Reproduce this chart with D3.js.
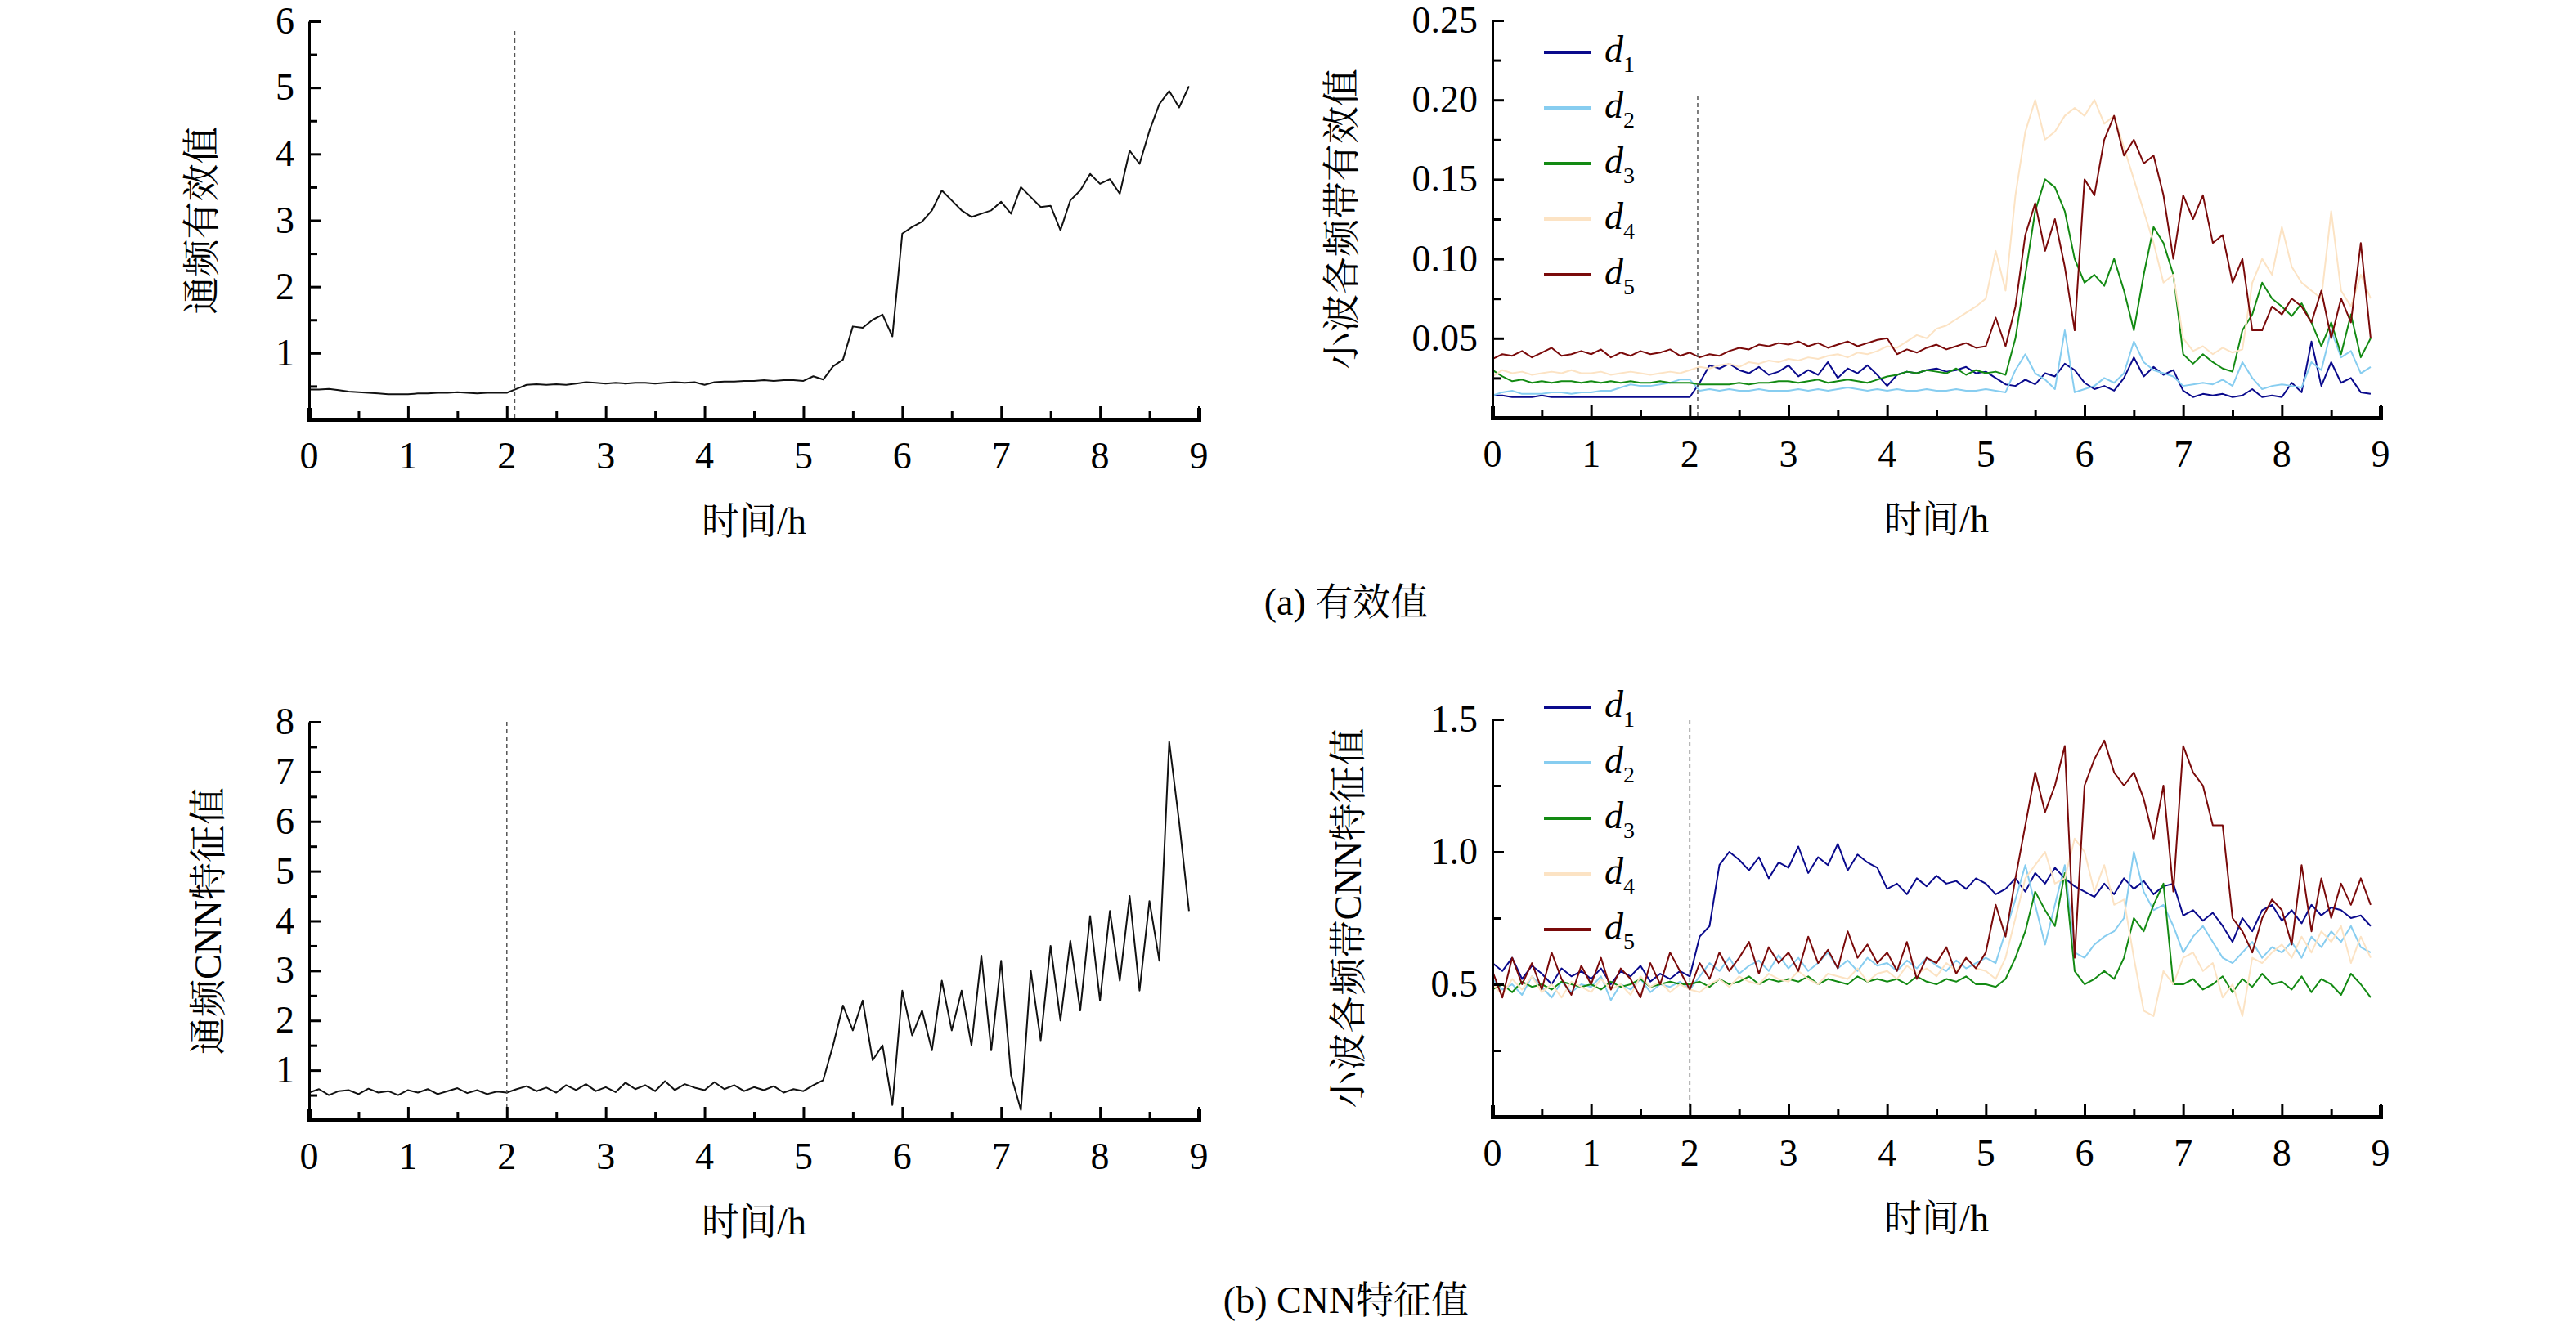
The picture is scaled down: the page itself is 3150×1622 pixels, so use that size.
<!DOCTYPE html>
<html><head><meta charset="utf-8">
<script src="https://cdn.jsdelivr.net/npm/d3@7"></script>
<style>body{margin:0;background:#fff}svg{display:block}</style>
</head><body>
<script>
const time=[0,0.1,0.2,0.3,0.4,0.5,0.6,0.7,0.8,0.9,1,1.1,1.2,1.3,1.4,1.5,1.6,1.7,1.8,1.9,2,2.1,2.2,2.3,2.4,2.5,2.6,2.7,2.8,2.9,3,3.1,3.2,3.3,3.4,3.5,3.6,3.7,3.8,3.9,4,4.1,4.2,4.3,4.4,4.5,4.6,4.7,4.8,4.9,5,5.1,5.2,5.3,5.4,5.5,5.6,5.7,5.8,5.9,6,6.1,6.2,6.3,6.4,6.5,6.6,6.7,6.8,6.9,7,7.1,7.2,7.3,7.4,7.5,7.6,7.7,7.8,7.9,8,8.1,8.2,8.3,8.4,8.5,8.6,8.7,8.8,8.9];
const seriesNames=["d1","d2","d3","d4","d5"];
const rmsA=[.45,.45,.46,.44,.42,.41,.40,.39,.38,.38,.38,.39,.39,.40,.40,.41,.40,.39,.40,.40,.40,.46,.52,.53,.52,.53,.52,.54,.56,.55,.54,.55,.54,.55,.55,.54,.55,.56,.55,.56,.52,.56,.57,.57,.58,.58,.59,.58,.59,.59,.58,.65,.60,.80,.90,1.40,1.38,1.50,1.58,1.25,2.80,2.90,2.98,3.15,3.45,3.30,3.15,3.05,3.10,3.15,3.28,3.10,3.50,3.35,3.20,3.22,2.85,3.30,3.45,3.70,3.55,3.62,3.40,4.05,3.85,4.35,4.75,4.95,4.70,5.02];
const rmsD1=[.014,.014,.013,.013,.013,.014,.013,.013,.013,.013,.013,.013,.013,.013,.013,.013,.013,.013,.013,.013,.013,.022,.033,.031,.034,.030,.028,.032,.027,.029,.033,.026,.030,.027,.035,.025,.031,.028,.033,.027,.020,.027,.029,.028,.030,.031,.029,.030,.032,.028,.029,.025,.021,.020,.024,.021,.028,.026,.034,.030,.022,.018,.020,.017,.025,.038,.026,.032,.027,.030,.017,.013,.015,.014,.015,.013,.014,.018,.013,.014,.013,.022,.016,.048,.020,.035,.022,.025,.016,.015];
const rmsD2=[.014,.016,.017,.015,.015,.015,.016,.016,.015,.016,.016,.017,.017,.019,.021,.020,.020,.021,.022,.024,.024,.017,.018,.017,.018,.017,.017,.018,.017,.017,.017,.018,.017,.018,.017,.018,.019,.018,.017,.018,.017,.018,.017,.017,.018,.017,.017,.018,.017,.017,.018,.017,.016,.030,.040,.028,.024,.018,.055,.016,.018,.020,.025,.022,.028,.048,.035,.030,.028,.026,.020,.021,.022,.021,.024,.020,.035,.025,.018,.020,.021,.020,.019,.035,.030,.055,.038,.042,.028,.032];
const rmsD3=[.030,.026,.023,.024,.022,.023,.022,.023,.023,.022,.023,.022,.023,.022,.023,.022,.022,.023,.022,.022,.022,.021,.021,.021,.021,.022,.021,.022,.022,.023,.023,.022,.023,.024,.022,.023,.024,.023,.022,.024,.026,.027,.029,.028,.030,.029,.028,.031,.027,.030,.028,.029,.027,.050,.090,.130,.150,.145,.130,.100,.085,.090,.083,.100,.080,.055,.090,.120,.110,.090,.040,.034,.040,.035,.031,.029,.055,.065,.085,.075,.070,.064,.072,.060,.045,.060,.040,.065,.038,.050];
const rmsD4=[.026,.030,.028,.029,.027,.028,.029,.028,.030,.028,.028,.029,.027,.028,.029,.028,.027,.028,.029,.028,.030,.032,.031,.033,.034,.032,.035,.034,.036,.035,.037,.036,.038,.037,.039,.040,.038,.041,.040,.042,.045,.044,.048,.052,.050,.056,.058,.062,.066,.070,.075,.105,.080,.140,.180,.200,.175,.180,.190,.195,.190,.200,.185,.190,.170,.150,.130,.110,.085,.090,.050,.042,.045,.040,.044,.041,.043,.085,.100,.090,.120,.095,.085,.080,.075,.130,.080,.070,.090,.075];
const rmsD5=[.037,.040,.039,.042,.038,.041,.044,.039,.040,.042,.040,.043,.038,.041,.039,.042,.040,.041,.043,.039,.041,.038,.040,.039,.042,.044,.043,.046,.045,.047,.046,.048,.045,.047,.044,.046,.048,.045,.047,.049,.050,.040,.043,.041,.044,.046,.043,.045,.047,.044,.045,.063,.045,.070,.115,.135,.105,.125,.095,.055,.150,.140,.175,.190,.165,.175,.160,.165,.140,.100,.140,.125,.140,.110,.115,.085,.100,.055,.055,.070,.065,.075,.070,.060,.080,.050,.075,.060,.110,.050];
const cnnA=[.55,.62,.50,.58,.60,.52,.63,.55,.58,.50,.60,.55,.62,.52,.58,.64,.54,.60,.52,.57,.55,.62,.68,.58,.65,.55,.70,.60,.72,.58,.66,.56,.75,.62,.70,.58,.78,.60,.72,.65,.60,.76,.62,.70,.58,.66,.60,.68,.55,.62,.58,.70,.80,1.5,2.3,1.8,2.4,1.2,1.5,0.3,2.6,1.7,2.2,1.4,2.8,1.8,2.6,1.5,3.3,1.4,3.2,0.9,0.2,3.0,1.6,3.5,2.0,3.6,2.2,4.1,2.4,4.2,2.8,4.5,2.6,4.4,3.2,7.6,6.0,4.2];
const cnnD1=[.58,.55,.60,.52,.57,.54,.50,.56,.53,.55,.52,.56,.50,.55,.53,.57,.51,.54,.52,.55,.53,.68,.72,.95,1.00,.97,.93,.98,.90,.96,.94,1.02,.92,.98,.95,1.03,.93,.99,.96,.94,.86,.88,.84,.90,.87,.91,.88,.89,.86,.90,.88,.84,.86,.90,.85,.92,.88,.94,.90,.87,.85,.83,.88,.84,.90,.86,.89,.84,.87,.88,.76,.78,.74,.77,.72,.66,.75,.70,.78,.80,.74,.78,.73,.80,.76,.79,.78,.75,.76,.72];
const cnnD2=[.52,.48,.50,.46,.53,.49,.45,.51,.47,.50,.49,.53,.44,.50,.48,.52,.47,.50,.49,.51,.48,.53,.58,.55,.60,.54,.57,.59,.55,.61,.56,.60,.55,.58,.62,.56,.59,.55,.60,.57,.58,.55,.59,.56,.60,.57,.55,.59,.56,.58,.60,.58,.70,.82,.95,.80,.65,.80,.95,.62,.60,.65,.68,.70,.75,1.00,.85,.78,.80,.72,.62,.68,.72,.66,.60,.58,.62,.66,.60,.64,.62,.66,.60,.68,.64,.70,.66,.72,.64,.62];
const cnnD3=[.48,.50,.47,.51,.49,.50,.48,.51,.50,.49,.50,.48,.51,.49,.50,.52,.49,.50,.51,.50,.50,.51,.49,.52,.50,.51,.53,.50,.52,.51,.52,.51,.53,.50,.52,.51,.50,.53,.51,.52,.51,.52,.50,.53,.51,.50,.52,.51,.53,.50,.50,.49,.52,.60,.70,.85,.78,.72,.92,.55,.50,.52,.55,.52,.60,.75,.70,.80,.88,.50,.50,.52,.48,.50,.53,.47,.52,.49,.54,.50,.51,.48,.53,.47,.52,.50,.46,.54,.50,.45];
const cnnD4=[.50,.46,.52,.48,.53,.47,.50,.45,.51,.49,.47,.52,.48,.50,.46,.53,.49,.51,.47,.50,.48,.47,.50,.52,.49,.53,.51,.50,.54,.52,.51,.55,.52,.50,.54,.53,.52,.56,.51,.54,.55,.52,.57,.54,.56,.53,.58,.55,.60,.56,.55,.52,.60,.75,.90,.95,1.00,.88,.90,1.05,1.0,.85,.95,.80,.82,.60,.40,.38,.55,.50,.60,.62,.55,.58,.45,.50,.38,.60,.58,.62,.65,.60,.68,.62,.70,.66,.72,.58,.68,.60];
const cnnD5=[.55,.45,.60,.50,.58,.48,.62,.52,.46,.57,.50,.60,.48,.56,.52,.45,.58,.50,.62,.55,.48,.58,.52,.62,.55,.60,.66,.54,.64,.58,.62,.55,.68,.58,.63,.56,.70,.60,.65,.58,.62,.55,.66,.52,.60,.58,.64,.54,.60,.56,.62,.80,.68,.90,1.10,1.30,1.15,1.25,1.40,0.60,1.25,1.35,1.42,1.30,1.25,1.30,1.20,1.05,1.25,0.85,1.40,1.30,1.25,1.10,1.10,0.75,0.70,0.62,0.75,0.82,.78,.65,.95,.70,.90,.75,.88,.80,.90,.80];
const xTicks=[0,1,2,3,4,5,6,7,8,9];
const colors={d1:"#0a0a8c",d2:"#87cdf0",d3:"#138a13",d4:"#fce3c4",d5:"#7a0a0a"};

const W=3150,H=1622;
const svg=d3.select("body").append("svg").attr("width",W).attr("height",H);
const serif='"Liberation Serif","Noto Serif CJK SC","Noto Sans CJK SC",serif';

function panel(o){
  const g=svg.append("g");
  const x=d3.scaleLinear().domain([0,9]).range([o.x0,o.x1]);
  const y=d3.scaleLinear().domain([0,o.ymax]).range([o.y0,o.yT]);
  const line=d3.line().x((d,i)=>x(time[i])).y(d=>y(d));
  o.series.forEach(s=>{
    g.append("path").datum(s.v).attr("d",line).attr("fill","none")
      .attr("stroke",s.c).attr("stroke-width",2).attr("stroke-linejoin","round");
  });
  g.append("line").attr("x1",x(o.dash)).attr("x2",x(o.dash)).attr("y1",o.dashTop).attr("y2",o.y0)
    .attr("stroke","#555").attr("stroke-width",1.5).attr("stroke-dasharray","5,4");
  const xa=g.append("g").attr("transform",`translate(0,${o.y0})`);
  xa.call(d3.axisBottom(x).tickValues(d3.range(0,9.01,0.5)).tickSize(-14).tickFormat(""));
  xa.selectAll(".tick line").attr("y2",d=>Number.isInteger(d)?-16:-10).attr("stroke-width",3);
  xa.select(".domain").attr("stroke-width",5);
  xa.selectAll("text.lab").data(xTicks).enter().append("text").attr("class","lab")
    .attr("x",d=>x(d)).attr("y",60).attr("text-anchor","middle").attr("fill","#000")
    .attr("font-family",serif).attr("font-size",46).text(d=>d);
  const ya=g.append("g").attr("transform",`translate(${o.x0},0)`);
  ya.call(d3.axisLeft(y).tickValues(o.minor).tickSize(0).tickFormat(""));
  ya.select(".domain").attr("stroke-width",3);
  ya.selectAll(".tick line").attr("x2",d=>o.labels.some(l=>Math.abs(l-d)<1e-9)?14:10).attr("stroke-width",3);
  ya.selectAll("text.lab").data(o.labels).enter().append("text").attr("class","lab")
    .attr("x",-18).attr("y",d=>y(d)+15).attr("text-anchor","end").attr("fill","#000")
    .attr("font-family",serif).attr("font-size",46).text(d=>o.fmt(d));
  g.append("text").attr("transform",`translate(${o.ytx},${(o.y0+o.yT)/2}) rotate(-90)`)
    .attr("text-anchor","middle").attr("font-family",serif).attr("font-size",46).text(o.ytitle);
  g.append("text").attr("x",(o.x0+o.x1)/2).attr("y",o.y0+140).attr("text-anchor","middle")
    .attr("font-family",serif).attr("font-size",46).text("时间/h");
  if(o.legend){
    o.series.forEach((s,i)=>{
      const ly=o.legend.y+i*o.legend.dy;
      g.append("line").attr("x1",o.legend.x).attr("x2",o.legend.x+58).attr("y1",ly).attr("y2",ly)
        .attr("stroke",s.c).attr("stroke-width",4);
      const t=g.append("text").attr("x",o.legend.x+74).attr("y",ly+12).attr("font-family",serif).attr("font-size",46);
      t.append("tspan").attr("font-style","italic").text("d");
      t.append("tspan").attr("font-size",28).attr("dy",12).text(String(i+1));
    });
  }
}
const mk=(arrs)=>arrs.map((v,i)=>({v,c:colors[seriesNames[i]]}));

panel({x0:378,x1:1466,y0:513,yT:26,ymax:6,series:[{v:rmsA,c:"#111"}],dash:2.08,dashTop:38,
  minor:d3.range(0.5,6.01,0.5),labels:[1,2,3,4,5,6],fmt:d=>d,ytx:262,ytitle:"通频有效值"});
panel({x0:1825,x1:2911,y0:511,yT:25,ymax:0.25,series:mk([rmsD1,rmsD2,rmsD3,rmsD4,rmsD5]),dash:2.08,dashTop:117,
  minor:d3.range(0.025,0.2501,0.025),labels:[0.05,0.10,0.15,0.20,0.25],fmt:d=>d.toFixed(2),ytx:1656,ytitle:"小波各频带有效值",
  legend:{x:1888,y:64,dy:68}});
panel({x0:378,x1:1466,y0:1370,yT:883,ymax:8,series:[{v:cnnA,c:"#111"}],dash:2.0,dashTop:883,
  minor:d3.range(0.5,8.01,0.5),labels:[1,2,3,4,5,6,7,8],fmt:d=>d,ytx:270,ytitle:"通频CNN特征值"});
panel({x0:1825,x1:2911,y0:1366,yT:880,ymax:1.5,series:mk([cnnD1,cnnD2,cnnD3,cnnD4,cnnD5]),dash:2.0,dashTop:881,
  minor:d3.range(0.25,1.501,0.25),labels:[0.5,1.0,1.5],fmt:d=>d.toFixed(1),ytx:1664,ytitle:"小波各频带CNN特征值",
  legend:{x:1888,y:865,dy:68}});

svg.append("text").attr("x",1646).attr("y",752).attr("text-anchor","middle").attr("font-family",serif).attr("font-size",46).text("(a) 有效值");
svg.append("text").attr("x",1646).attr("y",1606).attr("text-anchor","middle").attr("font-family",serif).attr("font-size",46).text("(b) CNN特征值");
</script>
</body></html>
